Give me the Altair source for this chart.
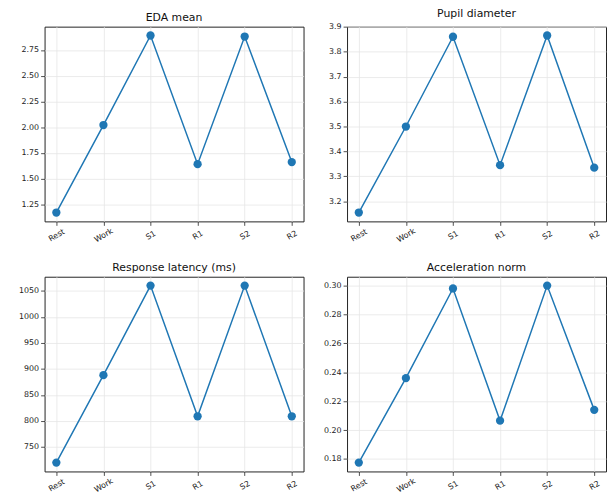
import altair as alt
import pandas as pd

phases = ["Rest", "Work", "S1", "R1", "S2", "R2"]

eda = [1.17, 2.02, 2.89, 1.64, 2.88, 1.66]
pupil = [3.155, 3.50, 3.86, 3.345, 3.865, 3.335]
latency = [720, 888, 1060, 809, 1060, 809]
accel = [0.1775, 0.236, 0.298, 0.2065, 0.300, 0.214]

eda_ticks = [1.25, 1.50, 1.75, 2.00, 2.25, 2.50, 2.75]
pupil_ticks = [3.2, 3.3, 3.4, 3.5, 3.6, 3.7, 3.8, 3.9]
latency_ticks = [750, 800, 850, 900, 950, 1000, 1050]
accel_ticks = [0.18, 0.20, 0.22, 0.24, 0.26, 0.28, 0.30]

BLUE = "#1f77b4"


def panel(title, values, ticks, fmt):
    df = pd.DataFrame({"phase": phases, "value": values})
    lo, hi = min(values), max(values)
    m = (hi - lo) * 0.05
    x = alt.X(
        "phase:N",
        sort=phases,
        scale=alt.Scale(type="point", padding=0.25),
        axis=alt.Axis(
            title=None,
            labelAngle=330,
            labelAlign="center",
            labelBaseline="middle",
            labelPadding=10,
            minExtent=25,
            maxExtent=25,
        ),
    )
    y = alt.Y(
        "value:Q",
        scale=alt.Scale(domain=[lo - m, hi + m], nice=False, zero=False),
        axis=alt.Axis(
            title=None,
            values=ticks,
            format=fmt,
            minExtent=31,
            maxExtent=31,
        ),
    )
    base = alt.Chart(df).encode(x=x, y=y)
    line = base.mark_line(color=BLUE, strokeWidth=1.5)
    pts = base.mark_point(filled=True, size=70, color=BLUE, opacity=1)
    return (line + pts).properties(
        title=alt.TitleParams(title, offset=4), width=262, height=197
    )


top = alt.hconcat(
    panel("EDA mean", eda, eda_ticks, ".2f"),
    panel("Pupil diameter", pupil, pupil_ticks, ".1f"),
    spacing=11,
)
bottom = alt.hconcat(
    panel("Response latency (ms)", latency, latency_ticks, "d"),
    panel("Acceleration norm", accel, accel_ticks, ".2f"),
    spacing=11,
)

chart = (
    alt.vconcat(top, bottom, spacing=14)
    .properties(padding={"left": 5, "top": -4, "right": 0, "bottom": 0})
    .configure_view(stroke="#222222", strokeWidth=1)
    .configure_axis(
        domain=False,
        tickColor="#222222",
        tickSize=4,
        tickWidth=0.8,
        labelFont="DejaVu Sans",
        labelFontSize=8,
        labelColor="#222222",
        grid=True,
        gridColor="#e6e6e6",
        gridWidth=0.8,
    )
    .configure_title(
        font="DejaVu Sans",
        fontSize=11,
        fontWeight="normal",
        color="#111111",
    )
)

chart.save("out.html", embed_options={"renderer": "svg", "actions": False})
